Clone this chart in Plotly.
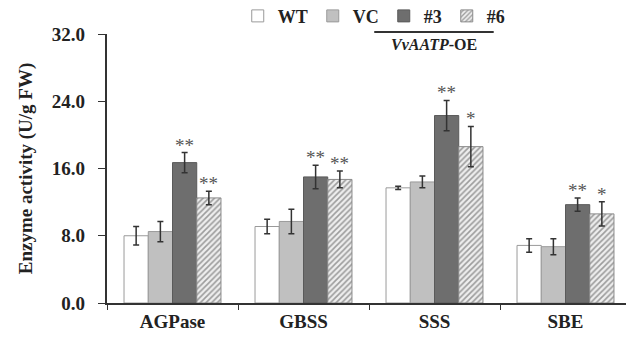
import plotly.graph_objects as go

categories = ["AGPase", "GBSS", "SSS", "SBE"]
series_names = ["WT", "VC", "#3", "#6"]
wt = [8.0, 9.1, 13.7, 6.85]
vc = [8.5, 9.7, 14.4, 6.7]
oe3 = [16.7, 15.0, 22.3, 11.7]
oe6 = [12.5, 14.7, 18.6, 10.6]
wt_err = [1.1, 0.85, 0.2, 0.8]
vc_err = [1.2, 1.45, 0.7, 0.95]
oe3_err = [1.2, 1.4, 1.8, 0.8]
oe6_err = [0.8, 1.0, 2.4, 1.45]
oe3_sig = ["**", "**", "**", "**"]
oe6_sig = ["**", "**", "*", "*"]
y_ticks = [0, 8, 16, 24, 32]

FONT = "Liberation Serif, Times New Roman, serif"

values = [wt, vc, oe3, oe6]
errs = [wt_err, vc_err, oe3_err, oe6_err]
fills = ["#ffffff", "#c0c0c0", "#6e6e6e", "#ffffff"]
outlines = ["#9a9a9a", "#9a9a9a", "#5a5a5a", "#8a8a8a"]

fig = go.Figure()
for i, name in enumerate(series_names):
    marker = dict(color=fills[i], line=dict(color=outlines[i], width=1))
    if name == "#6":
        marker["pattern"] = dict(shape="/", fgcolor="#4a4a4a", bgcolor="#eeeeee",
                                 size=4, solidity=0.4)
    fig.add_trace(go.Bar(
        x=categories, y=values[i], name="<b>%s</b>" % name, marker=marker,
        error_y=dict(type="data", array=errs[i], color="#333333",
                     thickness=1.5, width=3),
    ))

for idx, (vals, es, sig) in enumerate([(oe3, oe3_err, oe3_sig), (oe6, oe6_err, oe6_sig)]):
    offset = 0.5 + idx
    for ci, cat in enumerate(categories):
        fig.add_annotation(
            x=ci + offset * 0.185, y=vals[ci] + es[ci],
            xref="x", yref="y", text=sig[ci], showarrow=False,
            yanchor="bottom", yshift=-5,
            font=dict(family=FONT, size=19, color="#555555"),
        )

fig.add_shape(type="line", xref="paper", yref="paper",
              x0=0.510, x1=0.738, y0=1.007, y1=1.007,
              line=dict(color="#333333", width=2))
fig.add_annotation(xref="paper", yref="paper", x=0.624, y=1.0,
                   text="<b><i>VvAATP</i>-OE</b>", showarrow=False,
                   yanchor="top", font=dict(family=FONT, size=16, color="#222222"))

fig.update_layout(
    width=626, height=335,
    margin=dict(l=99, r=3, t=26, b=40, autoexpand=False),
    paper_bgcolor="white", plot_bgcolor="white",
    barmode="group", bargap=0.26, bargroupgap=0,
    showlegend=True,
    legend=dict(orientation="h", x=0.51, xanchor="center", y=1.135, yanchor="top",
                font=dict(family=FONT, size=18, color="#222222"),
                traceorder="normal", itemwidth=30,
                bgcolor="rgba(0,0,0,0)"),
    font=dict(family=FONT, color="#222222"),
)
fig.update_xaxes(
    showline=True, linecolor="#333333", linewidth=1.5,
    ticks="outside", tickson="boundaries", ticklen=5, tickcolor="#333333",
    tickfont=dict(family=FONT, size=19, color="#222222"),
    showgrid=False,
)
fig.update_xaxes(tickvals=categories, ticktext=["<b>%s</b>" % c for c in categories])
fig.update_yaxes(
    range=[0, 32], tickvals=y_ticks,
    ticktext=["<b>%.1f</b>\u00a0\u00a0" % v for v in y_ticks],
    showline=True, linecolor="#333333", linewidth=1.5,
    ticks="outside", ticklen=7, tickcolor="#333333",
    tickfont=dict(family=FONT, size=19, color="#222222"),
    showgrid=False, zeroline=False,
    title=dict(text="<b>Enzyme activity (U/g FW)</b>",
               font=dict(family=FONT, size=19, color="#222222"), standoff=14),
)

fig.write_html("out.html")
